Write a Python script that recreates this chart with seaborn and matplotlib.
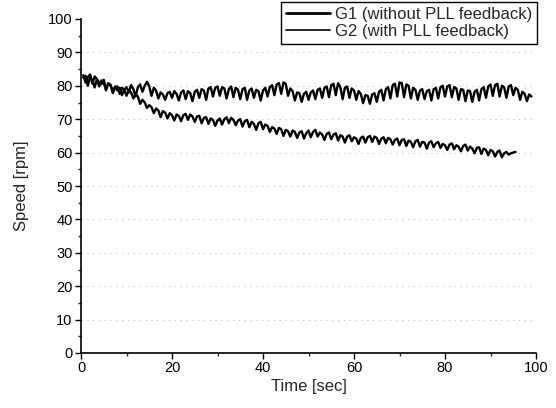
import numpy as np
import matplotlib
matplotlib.use('Agg')
import matplotlib.pyplot as plt
from matplotlib.lines import Line2D
from matplotlib.ticker import MultipleLocator
import seaborn as sns

speed_g1 = [  # without PLL feedback, 0.5 .. 95.5 s
    83.2, 81.0, 82.6, 83.4, 80.6, 82.8, 82.0, 79.8, 81.6, 81.0,
    78.6, 80.8, 80.2, 78.4, 79.6, 79.8, 77.6, 79.4, 78.8, 77.0,
    78.6, 78.0, 76.2, 77.4, 76.8, 74.6, 75.8, 75.0, 73.4, 74.2,
    73.6, 71.8, 73.2, 72.6, 70.6, 72.4, 72.0, 70.2, 71.8, 71.2,
    69.6, 71.4, 71.0, 69.4, 71.2, 71.6, 69.8, 71.4, 70.8, 69.2,
    70.8, 71.0, 68.8, 70.4, 70.6, 68.6, 70.2, 69.8, 68.0, 69.6,
    70.2, 68.4, 70.0, 70.6, 68.8, 70.4, 69.8, 68.2, 69.6, 70.0,
    67.8, 69.4, 69.8, 67.6, 69.2, 68.6, 66.8, 68.8, 69.2, 67.0,
    68.4, 68.0, 66.2, 67.6, 67.2, 65.6, 67.4, 67.0, 65.0, 66.8,
    66.4, 64.8, 66.6, 66.2, 64.4, 66.0, 66.4, 64.2, 65.8, 66.6,
    64.6, 66.2, 66.8, 64.8, 66.0, 65.4, 63.8, 65.6, 66.0, 64.0,
    65.4, 65.8, 63.6, 65.2, 64.8, 63.0, 64.8, 65.2, 63.4, 64.6,
    64.2, 62.6, 64.4, 64.8, 63.0, 64.6, 65.0, 63.2, 64.8, 64.4,
    62.6, 64.2, 64.6, 62.8, 64.4, 64.0, 62.4, 63.8, 64.2, 62.2,
    63.8, 64.0, 62.0, 63.6, 63.2, 61.6, 63.4, 63.8, 61.8, 63.2,
    63.0, 61.2, 63.0, 63.4, 61.6, 62.8, 63.2, 61.4, 62.6, 62.2,
    60.8, 62.4, 62.8, 61.0, 62.2, 61.8, 60.4, 62.0, 62.4, 60.6,
    61.8, 61.2, 59.8, 61.4, 61.6, 59.6, 61.2, 60.8, 59.2, 60.8,
    60.4, 58.8, 60.2, 60.6, 58.6, 59.8, 60.2, 59.4, 59.8, 60.0, 60.2,
]

speed_g2 = [  # with PLL feedback, 0.5 .. 99.0 s
    82.5, 83.0, 80.0, 82.8, 81.5, 79.5, 82.0, 81.0, 80.5, 81.8,
    79.0, 80.6, 80.2, 77.8, 79.8, 78.6, 79.4, 77.2, 78.8, 79.6,
    78.0, 80.2, 79.0, 76.8, 79.6, 80.4, 78.2, 80.0, 81.2, 79.8,
    77.0, 79.4, 78.6, 76.2, 78.0, 77.4, 75.8, 77.8, 78.2, 76.4,
    78.4, 77.6, 75.6, 78.0, 78.6, 76.0, 78.4, 77.8, 75.4, 78.2,
    78.8, 76.4, 79.0, 78.6, 75.8, 79.2, 79.6, 76.8, 79.4, 79.8,
    77.0, 79.6, 79.2, 76.2, 79.0, 79.8, 76.6, 79.4, 78.8, 76.0,
    79.0, 79.4, 75.8, 78.6, 79.2, 76.4, 78.8, 78.4, 75.6, 78.6,
    79.4, 76.8, 79.6, 80.2, 77.2, 80.4, 80.8, 77.6, 81.0, 80.6,
    77.0, 79.2, 78.4, 75.6, 78.0, 77.8, 75.2, 77.6, 78.2, 75.8,
    78.0, 78.6, 76.0, 78.8, 79.2, 76.4, 79.4, 79.8, 76.6, 80.2,
    80.6, 77.2, 80.8, 79.6, 76.0, 79.4, 79.8, 76.4, 79.2, 78.6,
    75.8, 78.4, 77.6, 74.8, 77.2, 77.0, 74.6, 77.4, 77.8, 75.2,
    78.2, 78.8, 75.6, 79.0, 79.6, 76.2, 80.2, 80.6, 76.8, 81.0,
    80.8, 76.6, 80.4, 80.0, 76.2, 79.4, 78.8, 75.8, 78.6, 79.0,
    76.0, 78.4, 78.8, 75.6, 79.0, 79.4, 76.2, 79.6, 80.0, 76.8,
    79.8, 80.2, 76.6, 79.6, 79.2, 75.8, 79.0, 78.8, 75.4, 78.6,
    78.4, 75.2, 78.2, 78.8, 75.6, 79.0, 79.6, 76.4, 79.8, 80.4,
    77.0, 80.2, 80.6, 76.8, 80.0, 79.6, 76.4, 79.8, 80.2, 77.2,
    79.4, 78.8, 75.8, 78.2, 77.6, 75.4, 77.4, 76.8,
]

sample_step = 0.5
time_g1 = np.arange(1, len(speed_g1) + 1) * sample_step
time_g2 = np.arange(1, len(speed_g2) + 1) * sample_step

labels = ['G1 (without PLL feedback)', 'G2 (with PLL feedback)']

sns.set_style('ticks')
plt.rcParams['font.family'] = ['Liberation Sans', 'DejaVu Sans']

fig = plt.figure(figsize=(5.56, 4.08), dpi=100)
ax = fig.add_axes([81 / 556, 55 / 408, 455 / 556, 334 / 408])

# faint dotted grid like the scan
for yv in range(10, 100, 10):
    ax.axhline(yv, color='#b0b0b0', lw=0.7, ls=(0, (1, 5)), zorder=0)

sns.lineplot(x=time_g1, y=speed_g1, ax=ax, color='black', lw=1.7, sort=False)
sns.lineplot(x=time_g2, y=speed_g2, ax=ax, color='black', lw=1.7, sort=False)

ax.set_xlim(0, 100)
ax.set_ylim(0, 100)
ax.xaxis.set_major_locator(MultipleLocator(20))
ax.xaxis.set_minor_locator(MultipleLocator(10))
ax.yaxis.set_major_locator(MultipleLocator(10))
ax.yaxis.set_minor_locator(MultipleLocator(5))
ax.tick_params(which='major', length=4, width=1, labelsize=10.5, colors='black', pad=2)
ax.tick_params(which='minor', length=2.5, width=1)

sns.despine(ax=ax)
for s in ['left', 'bottom']:
    ax.spines[s].set_linewidth(1.2)
    ax.spines[s].set_color('black')

ax.set_xlabel('Time [sec]', fontsize=12, labelpad=3)
ax.set_ylabel('Speed [rpm]', fontsize=12, labelpad=14)

handles = [Line2D([], [], color='black', lw=2.0),
           Line2D([], [], color='black', lw=1.2)]
leg = ax.legend(handles, labels, loc='upper right', bbox_to_anchor=(1.002, 1.05),
                borderaxespad=0, fontsize=12, handlelength=2.6, handletextpad=0.3,
                labelspacing=0.1, borderpad=0.3, fancybox=False, framealpha=1)
leg.get_frame().set_edgecolor('black')
leg.get_frame().set_linewidth(1.0)

fig.savefig('out.png', dpi=100)
